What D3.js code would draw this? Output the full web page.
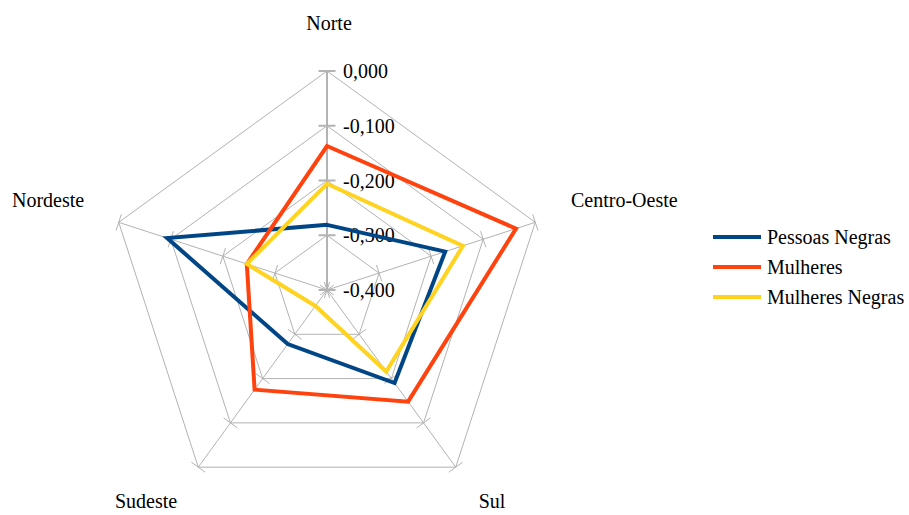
<!DOCTYPE html>
<html>
<head>
<meta charset="utf-8">
<script src="https://cdn.jsdelivr.net/npm/d3@7"></script>
<style>
  body { margin: 0; background: #fff; }
  svg { display: block; font-family: "Liberation Serif", "Times New Roman", serif; }
</style>
</head>
<body>
<div id="chart"></div>
<script>
// regions, clockwise from the top
const regions = ["Norte", "Centro-Oeste", "Sul", "Sudeste", "Nordeste"];
const ticks = [-0.4, -0.3, -0.2, -0.1, 0.0];

// series values
const pessoasNegras = [-0.281, -0.173, -0.19, -0.278, -0.093];
const mulheres = [-0.137, -0.037, -0.148, -0.175, -0.246];
const mulheresNegras = [-0.206, -0.139, -0.216, -0.364, -0.246];

const seriesNames = ["Pessoas Negras", "Mulheres", "Mulheres Negras"];
const seriesColors = ["#004586", "#ff420e", "#ffd320"];
const series = [pessoasNegras, mulheres, mulheresNegras];

const width = 909;
const height = 515;
const cx = 327, cy = 290;
const radius = 219;

const svg = d3.select("#chart")
    .append("svg")
    .attr("width", width)
    .attr("height", height);

const g = svg.append("g")
    .attr("transform", `translate(${cx},${cy})`);

const r = d3.scaleLinear().domain([-0.4, 0]).range([0, radius]);
const angle = d3.scaleLinear().domain([0, regions.length]).range([0, 2 * Math.PI]);

const pt = (i, v) => {
    const a = angle(i);
    return [r(v) * Math.sin(a), -r(v) * Math.cos(a)];
};

const grid = "#b3b3b3";

// rings
ticks.slice(1).forEach(t => {
    g.append("path")
        .attr("d", d3.line()(regions.map((_, i) => pt(i, t))) + "Z")
        .attr("fill", "none")
        .attr("stroke", grid)
        .attr("stroke-width", 1);
});

// spokes with tick marks
regions.forEach((name, i) => {
    const a = angle(i);
    const [x, y] = pt(i, 0);
    g.append("line")
        .attr("x1", 0).attr("y1", 0)
        .attr("x2", x).attr("y2", y)
        .attr("stroke", grid)
        .attr("stroke-width", i === 0 ? 2 : 1);
    ticks.forEach(t => {
        const [tx, ty] = pt(i, t);
        const px = Math.cos(a) * 8.5, py = Math.sin(a) * 8.5;
        g.append("line")
            .attr("x1", tx - px).attr("y1", ty - py)
            .attr("x2", tx + px).attr("y2", ty + py)
            .attr("stroke", grid)
            .attr("stroke-width", i === 0 ? 2 : 1);
    });
});

// value labels
g.selectAll(".tick-label")
    .data(ticks)
    .enter()
    .append("text")
    .attr("x", 16)
    .attr("y", d => -r(d))
    .attr("dy", "0.35em")
    .attr("font-size", 20)
    .text(d => d3.format(".3f")(d).replace(".", ",").replace("−", "-"));

// series polygons
series.forEach((vals, k) => {
    g.append("path")
        .attr("d", d3.line()(vals.map((v, i) => pt(i, v))) + "Z")
        .attr("fill", "none")
        .attr("stroke", seriesColors[k])
        .attr("stroke-width", 4)
        .attr("stroke-linejoin", "miter");
});

// region labels
const labelPos = [
    { x: 329, y: 30, anchor: "middle" },
    { x: 571, y: 207, anchor: "start" },
    { x: 492, y: 508, anchor: "middle" },
    { x: 146, y: 508, anchor: "middle" },
    { x: 12, y: 207, anchor: "start" }
];
regions.forEach((name, i) => {
    svg.append("text")
        .attr("x", labelPos[i].x)
        .attr("y", labelPos[i].y)
        .attr("text-anchor", labelPos[i].anchor)
        .attr("font-size", 20)
        .text(name);
});

// legend
const legend = svg.append("g").attr("transform", "translate(713,237)");
seriesNames.forEach((name, k) => {
    const row = legend.append("g").attr("transform", `translate(0,${k * 30})`);
    row.append("line")
        .attr("x1", 0).attr("x2", 48)
        .attr("y1", 0).attr("y2", 0)
        .attr("stroke", seriesColors[k])
        .attr("stroke-width", 4);
    row.append("text")
        .attr("x", 54)
        .attr("y", 0)
        .attr("dy", "0.33em")
        .attr("font-size", 20)
        .text(name);
});
</script>
</body>
</html>
